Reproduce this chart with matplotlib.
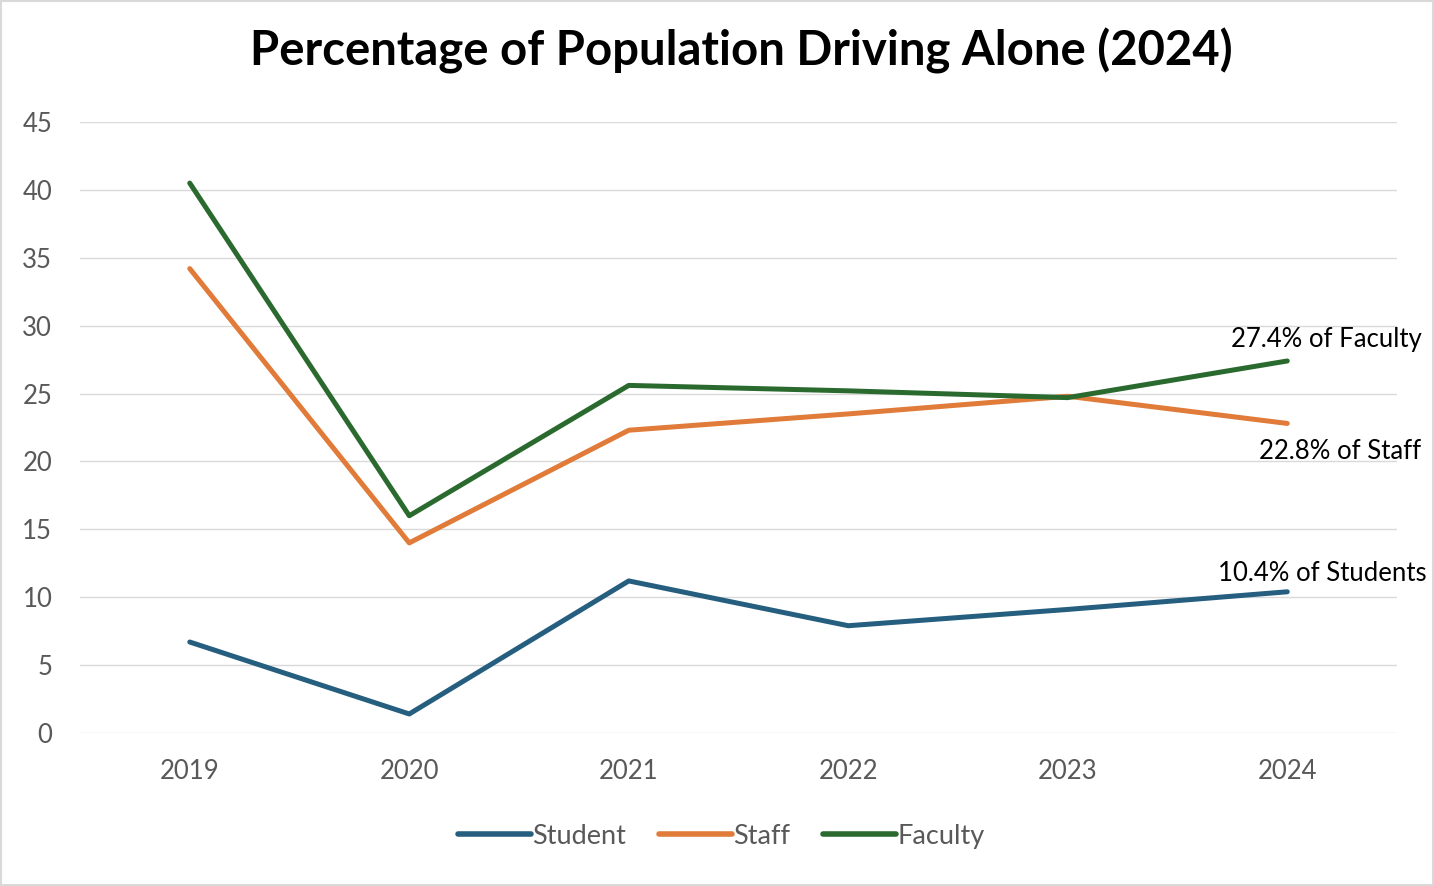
import matplotlib.pyplot as plt
import numpy as np

years = ["2019", "2020", "2021", "2022", "2023", "2024"]
student = [6.7, 1.4, 11.2, 7.9, 9.1, 10.4]
staff = [34.2, 14.0, 22.3, 23.5, 24.8, 22.8]
faculty = [40.5, 16.0, 25.6, 25.2, 24.7, 27.4]

notes = ["10.4% of Students", "22.8% of Staff", "27.4% of Faculty"]

plt.rcParams['font.family'] = ['Lato', 'DejaVu Sans']

fig = plt.figure(figsize=(14.34, 8.86), dpi=100)
ax = fig.add_axes([0.0558, 0.1727, 0.9184, 0.6896])

x = np.arange(len(years))
ax.plot(x, student, color="#255e7e", lw=3.6, label="Student", solid_capstyle="round")
ax.plot(x, staff, color="#e07b39", lw=3.6, label="Staff", solid_capstyle="round")
ax.plot(x, faculty, color="#2b6a2f", lw=3.6, label="Faculty", solid_capstyle="round")

ax.set_xlim(-0.5, 5.5)
ax.set_ylim(0, 45)
ax.set_yticks(range(0, 46, 5))
ax.set_xticks(x)
ax.set_xticklabels(years)
ax.grid(axis="y", color="#d9d9d9", lw=1)
ax.set_axisbelow(True)
for s in ax.spines.values():
    s.set_visible(False)
ax.tick_params(length=0, labelsize=18.5, colors="#595959")
ax.tick_params(axis="x", pad=19)
ax.tick_params(axis="y", pad=20)

ax.annotate(notes[2], (5, faculty[5]), xytext=(134, 21), textcoords="offset pixels",
            ha="right", va="center", fontsize=18.5)
ax.annotate(notes[1], (5, staff[5]), xytext=(134, -28), textcoords="offset pixels",
            ha="right", va="center", fontsize=18.5)
ax.annotate(notes[0], (5, student[5]), xytext=(139, 18), textcoords="offset pixels",
            ha="right", va="center", fontsize=18.5)

fig.text(0.517, 0.942, "Percentage of Population Driving Alone (2024)",
         ha="center", va="center", fontsize=34, fontweight="bold")

leg = fig.legend(loc="center", bbox_to_anchor=(0.503, 0.056), ncol=3, frameon=False,
                 fontsize=19.5, handlelength=2.7, handletextpad=0.05, columnspacing=1.2)
for t in leg.get_texts():
    t.set_color("#595959")
for h in leg.legend_handles:
    h.set_linewidth(4)

fig.patches.append(plt.Rectangle((0.001, 0.001), 0.998, 0.998, transform=fig.transFigure,
                                 fill=False, edgecolor="#d9d9d9", lw=1.5))

fig.savefig("out.png", dpi=100)
